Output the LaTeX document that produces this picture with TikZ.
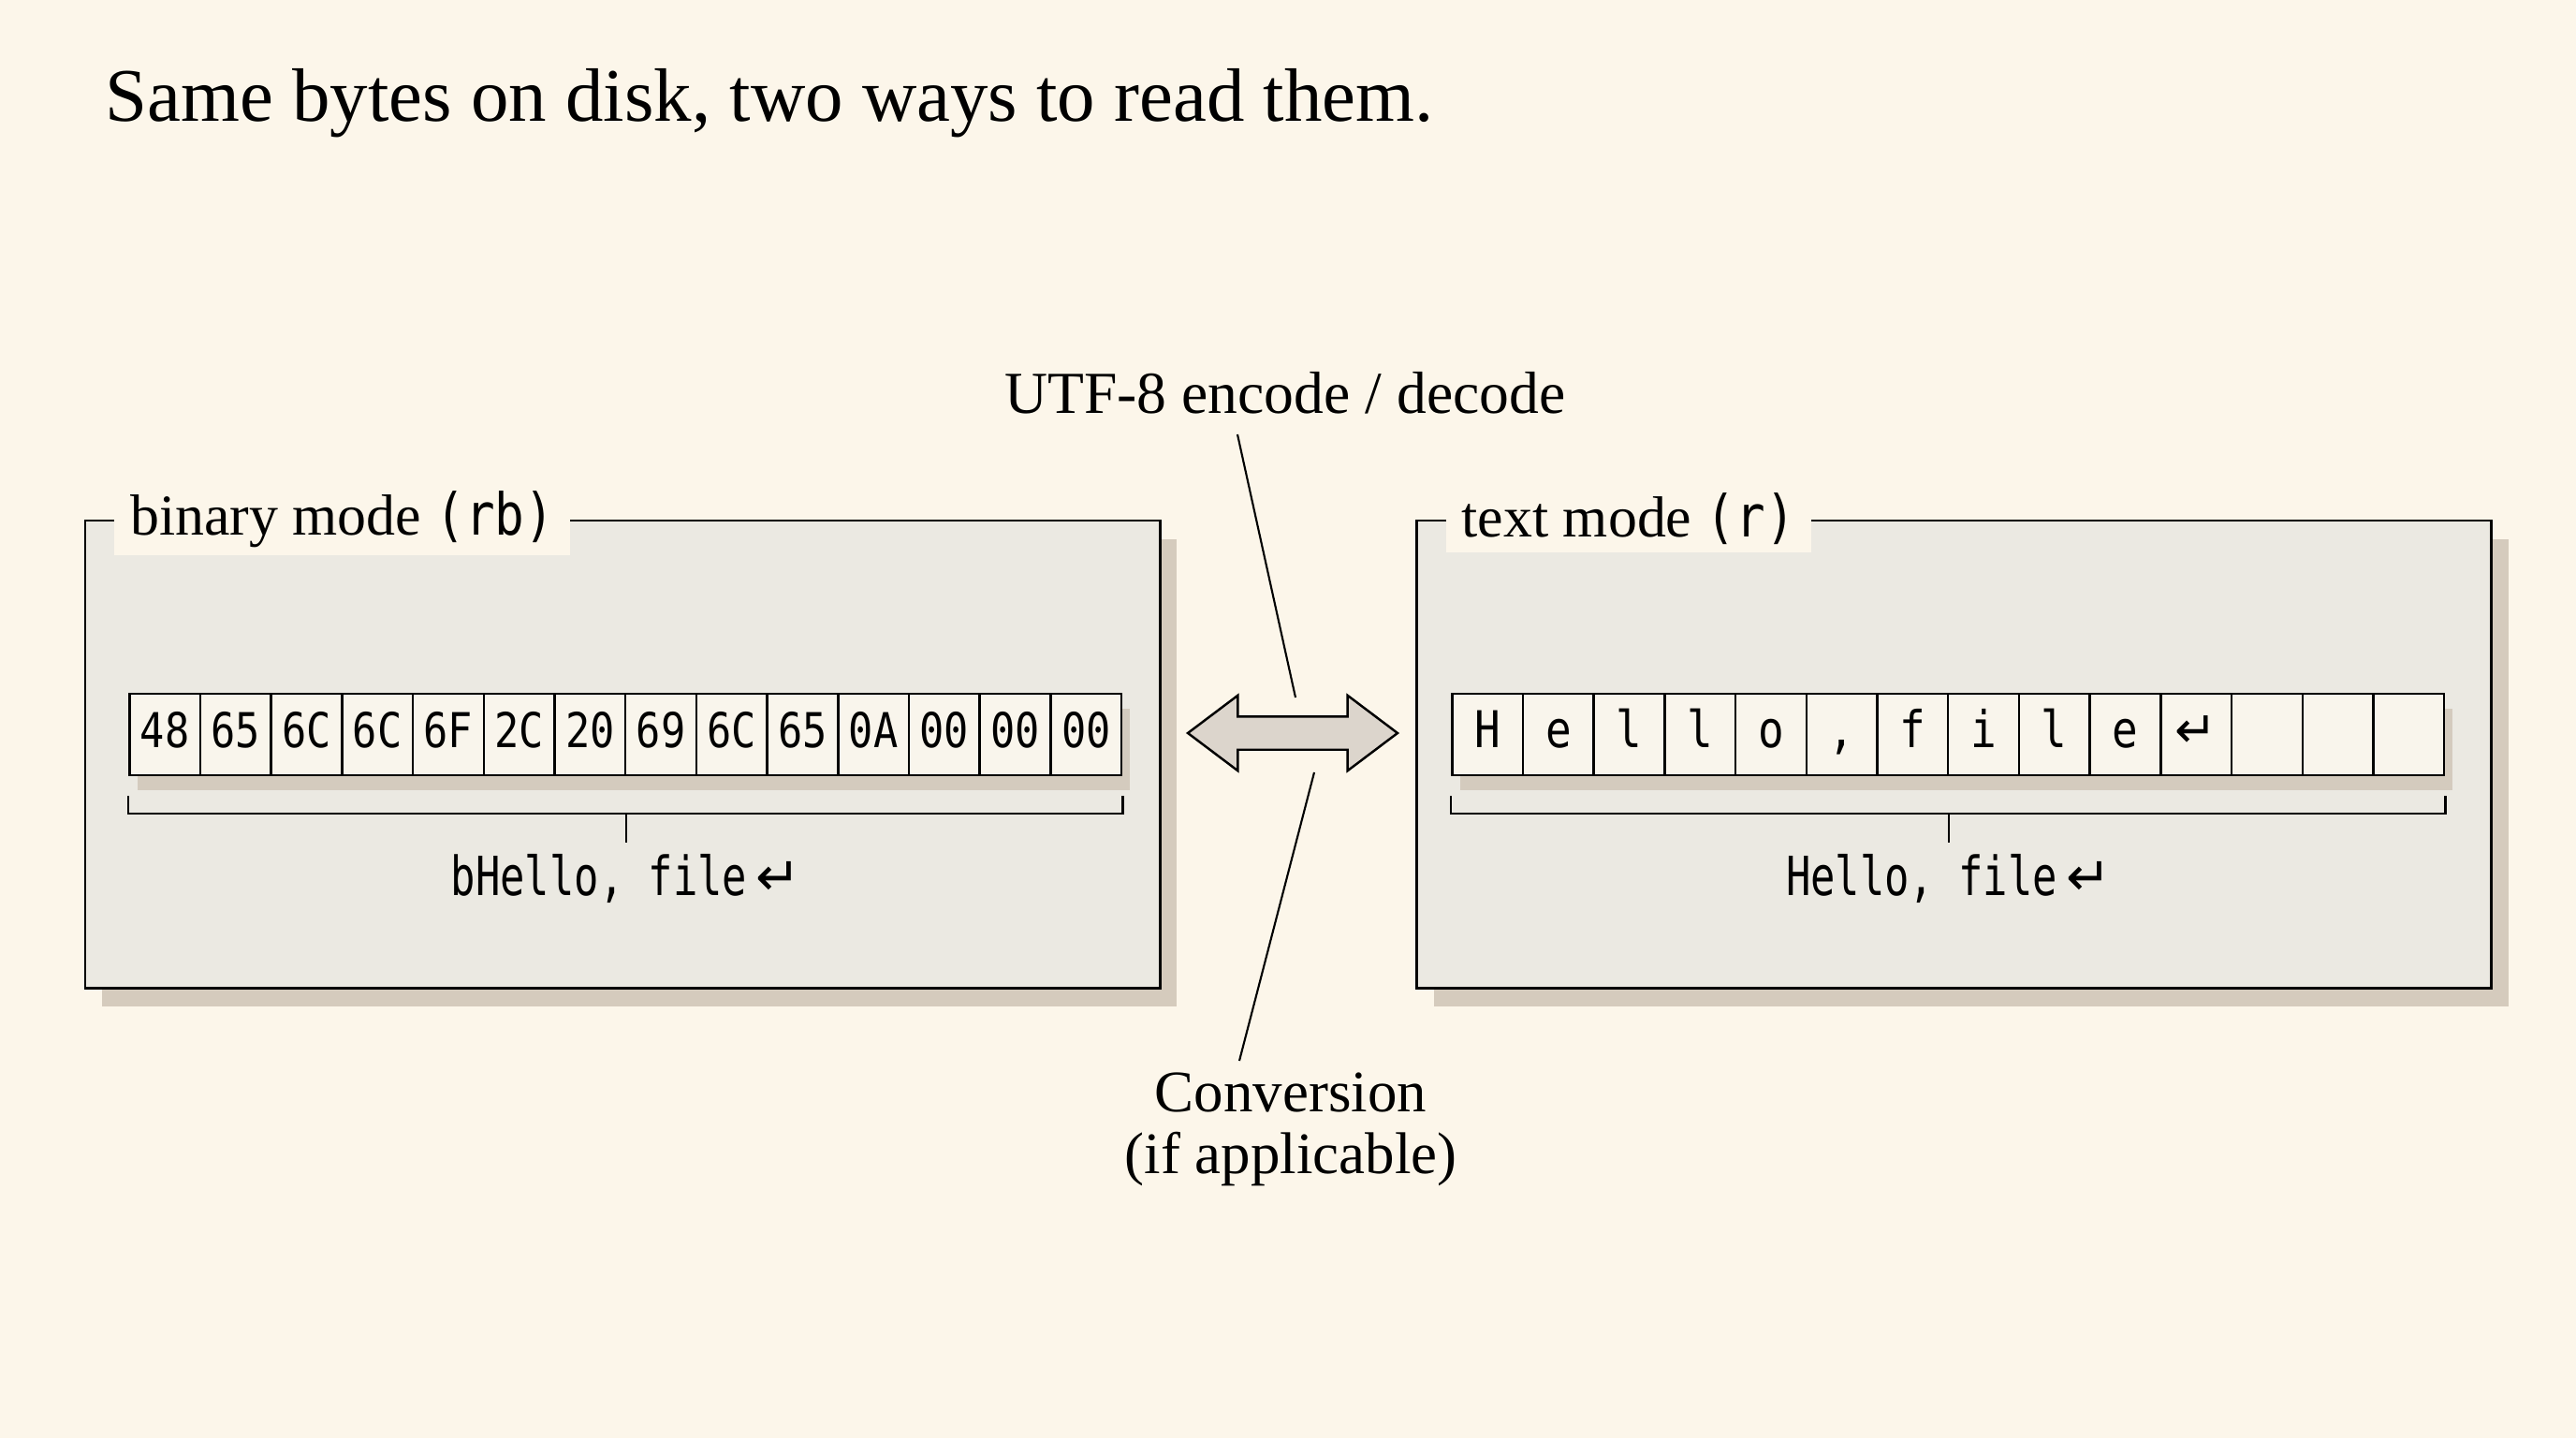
\documentclass[tikz,border=0pt]{standalone}
\usepackage{fontspec}
\setmainfont{Liberation Serif}
\newfontfamily\monofont[FakeStretch=0.85]{DejaVu Sans Mono}
\newfontfamily\narrowmono[FakeStretch=0.76]{DejaVu Sans Mono}
\newfontfamily\arrowfont{DejaVu Sans}
\usepackage{tikz}
\usetikzlibrary{calc,shapes.arrows,shadows}

\definecolor{bgcol}{HTML}{FCF6EA}
\definecolor{panelcol}{HTML}{EBE9E2}
\definecolor{cellcol}{HTML}{F9F5EC}
\definecolor{shadowcol}{HTML}{CFC4B6}
\definecolor{arrowcol}{HTML}{DCD5CC}

\newcommand{\retglyph}{{\arrowfont ↵}}

\tikzset{
	panel/.style={draw, line width=0.85pt, fill=panelcol, inner sep=0pt,
		minimum width=11.48cm, minimum height=4.99cm,
		drop shadow={shadow xshift=0.18cm, shadow yshift=-0.2cm, fill=shadowcol, opacity=0.85}},
	paneltitle/.style={fill=bgcol, anchor=west, inner xsep=0.17cm, inner ysep=0.08cm,
		font=\fontsize{17.6}{19}\selectfont},
	bytrow/.style={inner sep=0pt, minimum width=10.6cm, minimum height=0.87cm,
		drop shadow={shadow xshift=0.08cm, shadow yshift=-0.16cm, fill=shadowcol, opacity=0.8}},
	cell/.style={draw, line width=0.7pt, fill=cellcol, inner sep=0pt,
		minimum width=0.757cm, minimum height=0.87cm, text height=0.92em, text depth=0.12em},
	bracket/.style={line width=0.7pt},
	leader/.style={line width=0.6pt},
	convarrow/.style={double arrow, draw, line width=0.7pt, fill=arrowcol,
		inner xsep=0pt, inner ysep=0.165cm,
		minimum height=2.24cm, minimum width=0.78cm,
		double arrow head extend=0.225cm, double arrow tip angle=74}
}

\begin{document}
\begin{tikzpicture}

	\fill[bgcol] (0,0) rectangle (27.52,-15.36);
	\useasboundingbox (0,0) rectangle (27.52,-15.36);

	\node[anchor=base west, inner sep=0pt, font=\fontsize{23}{27}\selectfont] (title) at (1.12,-1.30) {Same bytes on disk, two ways to read them.};

	% the two panels
	\node[panel] (binpanel) at (6.65,-8.055) {};
	\node[panel] (txtpanel) at (20.875,-8.055) {};
	\node[paneltitle] (binlabel) at ([xshift=0.32cm]binpanel.north west) {binary mode {\monofont (rb)}};
	\node[paneltitle] (txtlabel) at ([xshift=0.32cm]txtpanel.north west) {text mode {\monofont (r)}};

	\node[bytrow] (binrow) at (6.69,-7.845) {};
	\node[bytrow] (txtrow) at (20.82,-7.845) {};

	\foreach \h [count=\i] in {48,65,6C,6C,6F,2C,20,69,6C,65,0A,00,00,00}
		\node[cell, font=\monofont\fontsize{14.6}{16}\selectfont] (b\i) at ([xshift={(\i-0.5)*0.757cm}]binrow.west) {\h};
	\foreach \c [count=\i] in {H,e,l,l,o,{,},f,i,l,e,\retglyph,{},{},{}}
		\node[cell, font=\monofont\fontsize{15.4}{17}\selectfont] (t\i) at ([xshift={(\i-0.5)*0.757cm}]txtrow.west) {\c};

	% brackets and decoded values
	\draw[bracket] ([yshift=-0.21cm]b1.south west) -- ([yshift=-0.40cm]b1.south west) -- ([yshift=-0.40cm]b14.south east) -- ([yshift=-0.21cm]b14.south east);
	\node[anchor=base, font=\narrowmono\fontsize{16.4}{18}\selectfont] (binvalue) at ([yshift=-1.28cm]binrow.south) {bHello, file\,\retglyph};
	\draw[bracket] ([yshift=-0.40cm]binrow.south) -- (binvalue.north);

	\draw[bracket] ([yshift=-0.21cm]t1.south west) -- ([yshift=-0.40cm]t1.south west) -- ([yshift=-0.40cm]t14.south east) -- ([yshift=-0.21cm]t14.south east);
	\node[anchor=base, font=\narrowmono\fontsize{16.4}{18}\selectfont] (txtvalue) at ([yshift=-1.28cm]txtrow.south) {Hello, file\,\retglyph};
	\draw[bracket] ([yshift=-0.40cm]txtrow.south) -- (txtvalue.north);

	% conversion in the middle
	\node[convarrow] (conv) at (13.81,-7.83) {};
	\node[anchor=base, font=\fontsize{18.1}{20}\selectfont] (utf) at (13.73,-4.41) {UTF-8 encode / decode};
	\node[anchor=north, align=center, font=\fontsize{17.9}{19}\selectfont] (convnote) at (13.79,-11.33) {Conversion\\(if applicable)};
	\draw[leader] ([xshift=-0.51cm,yshift=-0.1cm]utf.south) -- ([xshift=0.03cm,yshift=0.38cm]conv.center);
	\draw[leader] ([xshift=0.23cm,yshift=-0.42cm]conv.center) -- ([xshift=-0.55cm]convnote.north);

\end{tikzpicture}
\end{document}
